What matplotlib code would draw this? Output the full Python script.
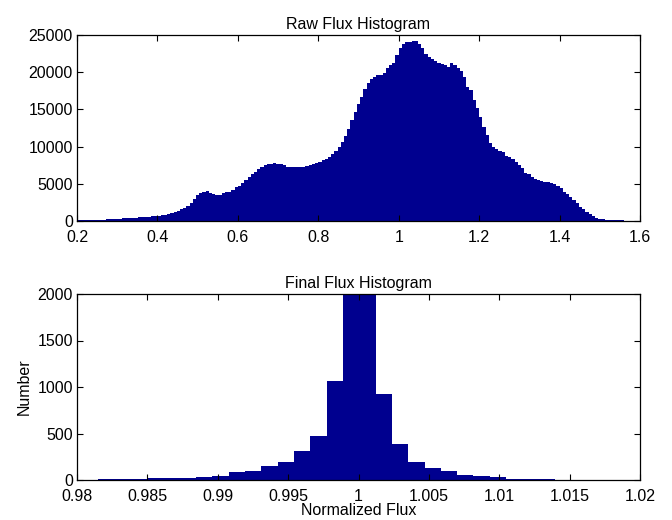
import numpy as np
import matplotlib
matplotlib.use("Agg")
import matplotlib.pyplot as plt

# ---------------- data ----------------
raw_range = (0.2, 1.6)
raw_counts = [
    90, 100, 105, 115, 125, 140, 160, 175, 190, 210,
    235, 255, 280, 305, 340, 370, 400, 430, 460, 480,
    510, 560, 600, 640, 690, 730, 790, 850, 920, 1030,
    1200, 1380, 1560, 1760, 2050, 2450, 2900, 3450, 3800, 3960,
    4020, 3800, 3620, 3490, 3560, 3780, 3850, 3950, 4230, 4580,
    4750, 5100, 5450, 5880, 6320, 6650, 6980, 7300, 7560, 7650,
    7720, 7760, 7720, 7620, 7480, 7320, 7300, 7290, 7250, 7200,
    7300, 7450, 7570, 7660, 7850, 7970, 8150, 8380, 8600, 8950,
    9400, 10000, 10600, 11400, 12300, 13600, 14700, 15700, 16700, 17700,
    18500, 19150, 19400, 19620, 19600, 19950, 20500, 20950, 21300, 22300,
    23200, 23850, 24050, 24100, 24200, 24150, 23850, 23200, 22500, 22100,
    21750, 21500, 21200, 21100, 20950, 20740, 21280, 20970, 20520, 20200,
    19400, 18050, 17600, 16300, 15150, 14020, 12700, 11550, 10450, 10000,
    9650, 9450, 9320, 8700, 8550, 8290, 7970, 7530, 7080, 6500,
    6270, 5960, 5640, 5510, 5420, 5290, 5240, 5150, 4970, 4700,
    4390, 3940, 3630, 3180, 2820, 2370, 1930, 1570, 1210, 940,
    670, 450, 310, 220, 150, 120, 100, 90, 80, 70,
    60, 55, 50, 45, 40,
]

final_first_edge = 0.97917
final_bin_width = 0.00116
final_counts = [
    1, 2, 7, 11, 11, 20, 18, 25, 36, 40,
    83, 101, 151, 198, 310, 475, 1062, 3400, 3300, 922,
    388, 198, 126, 94, 58, 47, 29, 14, 11, 7,
    4, 3, 3, 2, 2, 2,
]

raw_xticks = [0.2, 0.4, 0.6, 0.8, 1.0, 1.2, 1.4, 1.6]
raw_xticklabels = ["0.2", "0.4", "0.6", "0.8", "1", "1.2", "1.4", "1.6"]
raw_yticks = [0, 5000, 10000, 15000, 20000, 25000]

final_xticks = [0.98, 0.985, 0.99, 0.995, 1.0, 1.005, 1.01, 1.015, 1.02]
final_xticklabels = ["0.98", "0.985", "0.99", "0.995", "1", "1.005", "1.01", "1.015", "1.02"]
final_yticks = [0, 500, 1000, 1500, 2000]

# ---------------- style ----------------
plt.rcParams['font.family'] = ['Liberation Sans', 'DejaVu Sans']
plt.rcParams['font.size'] = 11.5
bar_color = '#00008F'

fig = plt.figure(figsize=(6.72, 5.2), dpi=100)
ax1 = fig.add_axes([77/672, 1-221/520, 563/672, 186/520])
ax2 = fig.add_axes([77/672, 1-480/520, 563/672, 186/520])

# top histogram
raw_edges = np.linspace(raw_range[0], raw_range[1], len(raw_counts) + 1)
ax1.bar(raw_edges[:-1], raw_counts, width=np.diff(raw_edges), align='edge',
        color=bar_color, linewidth=0)
ax1.set_xlim(0.2, 1.6)
ax1.set_ylim(0, 25000)
ax1.set_xticks(raw_xticks)
ax1.set_xticklabels(raw_xticklabels)
ax1.set_yticks(raw_yticks)
ax1.set_yticklabels([str(v) for v in raw_yticks])
ax1.set_title("Raw Flux Histogram", fontsize=11.5, pad=4)

# bottom histogram
final_edges = final_first_edge + final_bin_width * np.arange(len(final_counts) + 1)
ax2.bar(final_edges[:-1], final_counts, width=np.diff(final_edges), align='edge',
        color=bar_color, linewidth=0)
ax2.set_xlim(0.98, 1.02)
ax2.set_ylim(0, 2000)
ax2.set_xticks(final_xticks)
ax2.set_xticklabels(final_xticklabels)
ax2.set_yticks(final_yticks)
ax2.set_yticklabels([str(v) for v in final_yticks])
ax2.set_title("Final Flux Histogram", fontsize=11.5, pad=4)
ax2.set_xlabel("Normalized Flux", labelpad=-1)
ax2.set_ylabel("Number", labelpad=4)

for ax in (ax1, ax2):
    ax.tick_params(direction='in', length=4, width=0.8, top=True, right=True,
                   labelsize=11.5)
    ax.tick_params(axis='x', pad=6.5)
    ax.tick_params(axis='y', pad=3)
    for s in ax.spines.values():
        s.set_linewidth(0.9)
        s.set_color('black')
        s.set_zorder(5)

fig.savefig("out.png", dpi=100)
